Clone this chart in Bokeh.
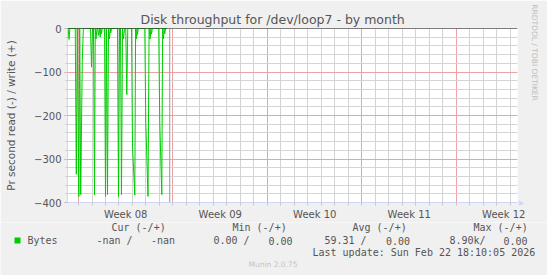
from math import pi
from bokeh.plotting import figure
from bokeh.layouts import column
from bokeh.models import Range1d, FixedTicker, Span, Label
from bokeh.core.properties import value
from bokeh.embed import file_html
from bokeh.resources import INLINE

# ---------------- data (time in days since Mon 16 Feb 2026 00:00) ----------------
read_t = [-0.80, -0.76, -0.70, -0.64,
          -0.24, -0.163, -0.09, 0.022, 0.09, 0.163, 0.28, 0.36,
          0.89, 0.963, 1.04, 1.11, 1.185, 1.24, 1.296, 1.37, 1.42, 1.48, 1.545, 1.61, 1.655, 1.70, 1.76,
          1.93, 2.0, 2.07, 2.148, 2.22, 2.296, 2.345, 2.39, 2.45,
          2.89, 2.963, 3.04, 3.11, 3.185, 3.26, 3.333, 3.41, 3.50, 3.578, 3.65,
          3.93, 4.0, 4.17, 4.23, 4.296, 4.333, 4.37, 4.43,
          4.91, 4.985, 5.148, 5.23, 5.31, 5.36, 5.41, 5.47,
          5.94, 6.02, 6.17, 6.23, 6.296, 6.345, 6.39, 6.45, 6.55]
read_v = [0, 0, -25, 0,
          0, -335, 0, -386, 0, -382, -74, 0,
          0, -89, 0, 0, -383, 0, -24, 0, 0, -16, 0, -20, 0, -12, 0,
          0, -386, 0, -382, 0, -24, 0, -10, 0,
          0, -386, 0, 0, -382, 0, -24, 0, 0, -152, 0,
          0, -272, -383, 0, -24, 0, -14, 0,
          0, -217, -386, 0, -24, 0, -13, 0,
          0, -217, -382, 0, -24, 0, -12, 0, 0]
write_t = [-0.80, 6.55]
write_v = [0, 0]

week_starts = [0, 7, 14, 21, 28]
week_mids = [3.5, 10.5, 17.5, 24.5, 31.5]
week_labels = ["Week 08", "Week 09", "Week 10", "Week 11", "Week 12"]
day_ticks = list(range(-1, 34))
y_major = [-400, -300, -200, -100, 0]
y_minor = list(range(-400, 1, 20))
last_update_day = 6 + (18 + 10 / 60 + 5 / 3600) / 24

title_text = "Disk throughput for /dev/loop7 - by month"
ylabel_text = "Pr second read (-) / write (+)"
side_text = "RRDTOOL / TOBI OETIKER"
legend_name = "Bytes"
legend_headers = ["Cur (-/+)", "Min (-/+)", "Avg (-/+)", "Max (-/+)"]
legend_read = ["-nan /", "0.00 /", "59.31 /", "8.90k/"]
legend_write = ["-nan", "0.00", "0.00", "0.00"]
last_update_text = "Last update: Sun Feb 22 18:10:05 2026"
footer_text = "Munin 2.0.75"

AX = "#CFD6F8"
TXT = "#555555"
BG = "#F0F0F0"
GREEN = "#00CC00"
MGRID = "#eca2a2"
GRID = "#d4d4d4"

# ---------------- main chart ----------------
H1 = 222
p = figure(width=547, height=H1, output_backend="svg", toolbar_location=None,
           x_range=Range1d(-0.815, 32.52), y_range=Range1d(-400, 0),
           min_border_left=67, min_border_right=30,
           min_border_top=28, min_border_bottom=H1 - 28 - 175,
           background_fill_color="white", border_fill_color=BG,
           outline_line_color=None)
p.frame_align = False

p.title.text = title_text
p.title.align = "left"
p.title.offset = 73
p.title.text_font = "DejaVu Sans"
p.title.text_font_size = "12.5px"
p.title.text_font_style = "normal"
p.title.text_color = TXT
p.title.standoff = 4

# right-hand side: axis arrow and the RRDtool credit (positions relative to their side panels)
p.add_layout(Label(x=4, y=0, x_units="screen", y_units="screen", text="\u25B6",
                   text_font="DejaVu Sans", text_font_size="7px", text_color=AX,
                   text_align="center", text_baseline="middle"), "right")
p.add_layout(Label(x=12, y=150, x_units="screen", y_units="screen", text=side_text,
                   text_font="DejaVu Sans", text_font_size="7.5px", text_color="#bdbdbd",
                   text_align="center", text_baseline="middle", angle=-pi / 2), "right")

# grids
p.xgrid.ticker = FixedTicker(ticks=week_starts, minor_ticks=day_ticks)
p.xgrid.grid_line_color = MGRID
p.xgrid.minor_grid_line_color = GRID
p.ygrid.ticker = FixedTicker(ticks=y_major, minor_ticks=y_minor)
p.ygrid.grid_line_color = MGRID
p.ygrid.minor_grid_line_color = GRID

# x axis
xa = p.xaxis[0]
xa.ticker = FixedTicker(ticks=week_mids, minor_ticks=day_ticks)
xa.major_label_overrides = {m: l for m, l in zip(week_mids, week_labels)}
xa.axis_line_color = AX
xa.major_tick_line_color = None
xa.minor_tick_line_color = "#c8c8c8"
xa.minor_tick_in = 0
xa.minor_tick_out = 3
xa.major_tick_in = 0
xa.major_tick_out = 0
xa.major_label_standoff = 3
xa.major_label_text_font = "DejaVu Sans"
xa.major_label_text_font_size = "10px"
xa.major_label_text_color = TXT
# y axis
ya = p.yaxis[0]
ya.ticker = FixedTicker(ticks=y_major, minor_ticks=y_minor)
ya.axis_line_color = AX
ya.major_tick_line_color = "#e89090"
ya.major_tick_in = 0
ya.major_tick_out = 3
ya.minor_tick_line_color = "#c8c8c8"
ya.minor_tick_in = 0
ya.minor_tick_out = 2
ya.major_label_standoff = 3
ya.major_label_text_font = "DejaVu Sans"
ya.major_label_text_font_size = "10px"
ya.major_label_text_color = TXT
ya.axis_label = ylabel_text
ya.axis_label_text_font = "DejaVu Sans"
ya.axis_label_text_font_size = "10.5px"
ya.axis_label_text_font_style = "normal"
ya.axis_label_text_color = TXT
ya.axis_label_standoff = 14

# data
p.line(write_t, write_v, line_color=GREEN, line_width=1)
p.line(read_t, read_v, line_color=GREEN, line_width=1)
p.add_layout(Span(location=0, dimension="width", line_color="black", line_width=1))
p.add_layout(Span(location=last_update_day, dimension="height", line_color="#999999", line_width=1))

# ---------------- legend block (canvas pixel coordinates) ----------------
H2 = 275 - H1
q = figure(width=547, height=H2, output_backend="svg", toolbar_location=None,
           x_range=Range1d(0, 547), y_range=Range1d(275, H1),
           x_axis_type=None, y_axis_type=None,
           min_border_left=0, min_border_right=0, min_border_top=0, min_border_bottom=0,
           background_fill_color=BG, border_fill_color=BG, outline_line_color=None)
q.frame_align = False
q.grid.visible = False

MONO = value("DejaVu Sans Mono")
q.text(x=[111, 232, 352, 473], y=[227] * 4, text=legend_headers, text_font=MONO,
       text_font_size="10px", text_color=TXT, text_baseline="middle", text_align="left")
q.quad(left=[14], right=[20], top=[237], bottom=[243], fill_color=GREEN, line_color=None)
q.text(x=[27], y=[240], text=[legend_name], text_font=MONO,
       text_font_size="10px", text_color=TXT, text_baseline="middle", text_align="left")
q.text(x=[96, 213, 324, 449], y=[240] * 4, text=legend_read, text_font=MONO,
       text_font_size="10px", text_color=TXT, text_baseline="middle", text_align="left")
q.text(x=[150.5, 268, 385.5, 503], y=[240] * 4, text=legend_write, text_font=MONO,
       text_font_size="10px", text_color=TXT, text_baseline="middle", text_align="left")
q.text(x=[312], y=[252], text=[last_update_text], text_font=MONO,
       text_font_size="10px", text_color=TXT, text_baseline="middle", text_align="left")
q.text(x=[272.5], y=[264], text=[footer_text], text_font=value("DejaVu Sans"),
       text_font_size="7.5px", text_color="#c4c4c4", text_baseline="middle", text_align="center")

layout = column(p, q, spacing=0)
open("out.html", "w").write(file_html(layout, INLINE))
